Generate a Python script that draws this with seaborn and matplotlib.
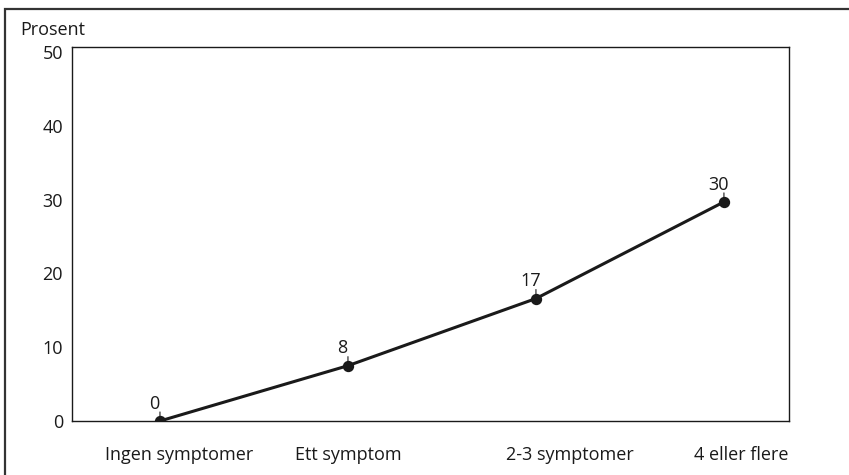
import matplotlib
matplotlib.use("Agg")
import matplotlib.pyplot as plt
import seaborn as sns
import pandas as pd

# data
categories = ["Ingen symptomer", "Ett symptom", "2-3 symptomer", "4 eller flere"]
values = [0, 7.5, 16.6, 29.7]
value_labels = ["0", "8", "17", "30"]
y_ticks = [0, 10, 20, 30, 40, 50]

df = pd.DataFrame({"kategori": categories, "prosent": values})

sns.set_style("white")
plt.rcParams["font.family"] = ["Open Sans", "DejaVu Sans"]
plt.rcParams["font.size"] = 13
ink = "#1a1a1a"

fig = plt.figure(figsize=(8.49, 4.75), dpi=100)
ax = fig.add_axes([0.0848, 0.1137, 0.8445, 0.7873])

sns.pointplot(data=df, x="kategori", y="prosent", order=categories, color=ink,
              markers="o", markersize=6.5, linewidth=2.2, ax=ax)

# value labels, each with a short vertical stem above the point
for i, (v, lab) in enumerate(zip(values, value_labels)):
    ax.annotate("", xy=(i, v), xytext=(0, 6.5), textcoords="offset points",
                arrowprops=dict(arrowstyle="-", lw=0.8, color=ink,
                                shrinkA=0, shrinkB=0))
    ax.annotate(lab, xy=(i, v), xytext=(-4, 6), textcoords="offset points",
                ha="center", va="bottom", fontsize=13, color=ink)

ax.set_xlim(-0.468, 3.346)
ax.set_ylim(0, 50.7)
ax.set_yticks(y_ticks)
ax.set_xticks([0.1, 1.0, 2.18, 3.09])
ax.set_xticklabels(categories)
ax.tick_params(axis="both", length=0, colors=ink, labelsize=13)
ax.tick_params(axis="x", pad=18)
ax.tick_params(axis="y", pad=6.5)
ax.set_xlabel("")
ax.set_ylabel("")
for s in ax.spines.values():
    s.set_visible(True)
    s.set_color(ink)
    s.set_linewidth(1.0)

fig.text(20 / 849, 1 - 30 / 475, "Prosent", ha="left", va="center",
         fontsize=13, color=ink)

# outer frame (only top and left edges show in the reference)
frame = plt.Rectangle((5 / 849, -0.1), 1.2, 1 - 9 / 475 + 0.1,
                      transform=fig.transFigure, fill=False,
                      edgecolor="#333333", lw=1.6, clip_on=False)
fig.add_artist(frame)

fig.savefig("out.png", dpi=100)
